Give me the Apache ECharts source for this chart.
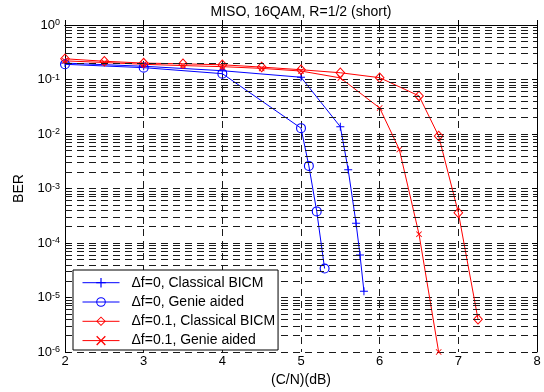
<!DOCTYPE html>
<html>
<head>
<meta charset="utf-8">
<script src="https://cdn.jsdelivr.net/npm/echarts@6/dist/echarts.min.js"></script>
<style>
html,body{margin:0;padding:0;background:#fff;}
#c{width:544px;height:392px;}
</style>
</head>
<body>
<div id="c"></div>
<script>
// ---- data ----
var seriesNames = ['\u0394f=0, Classical BICM', '\u0394f=0, Genie aided', '\u0394f=0.1, Classical BICM', '\u0394f=0.1, Genie aided'];
var xBlueClassic = [2, 3, 4, 5, 5.5, 5.6, 5.7, 5.75, 5.8];
var yBlueClassic = [0.2, 0.175, 0.145, 0.11, 0.0136, 0.0022, 2.3e-4, 6e-5, 1.3e-5];
var xBlueGenie = [2, 3, 4, 5, 5.1, 5.2, 5.3];
var yBlueGenie = [0.19, 0.165, 0.128, 0.0128, 0.0026, 3.8e-4, 3.4e-5];
var xRedClassic = [2, 2.5, 3, 3.5, 4, 4.5, 5, 5.5, 6, 6.5, 6.75, 7, 7.25];
var yRedClassic = [0.24, 0.216, 0.2, 0.194, 0.186, 0.169, 0.151, 0.133, 0.108, 0.05, 0.0092, 3.6e-4, 4e-6];
var xRedGenie = [2, 2.5, 3, 3.5, 4, 4.5, 5, 5.5, 6, 6.25, 6.5, 6.75];
var yRedGenie = [0.22, 0.205, 0.19, 0.18, 0.172, 0.16, 0.143, 0.107, 0.03, 0.0052, 1.45e-4, 1e-6];
var xTicks = [2, 3, 4, 5, 6, 7, 8];
var yDecadeExps = [0, -1, -2, -3, -4, -5, -6];
var minorMultipliers = [2, 3, 4, 5, 6, 7, 8, 9];
var titleText = 'MISO, 16QAM, R=1/2 (short)';
var xName = '(C/N)(dB)';
var yName = 'BER';

function zip(xs, ys) { return xs.map(function (x, i) { return [x, ys[i]]; }); }

var expMax = yDecadeExps[0], expMin = yDecadeExps[yDecadeExps.length - 1];
// minor grid positions in exponent space (log10 of 2..9 x 10^k)
var minorExps = [];
yDecadeExps.forEach(function (e) {
  if (e === expMax) return;
  minorMultipliers.forEach(function (m) { minorExps.push(e + Math.log10(m)); });
});

var plusPath = 'path://M3.5,0 H4.5 V3.5 H8 V4.5 H4.5 V8 H3.5 V4.5 H0 V3.5 H3.5 Z';
var crossPath = 'path://M0,0.6 L0.6,0 L3,2.4 L5.4,0 L6,0.6 L3.6,3 L6,5.4 L5.4,6 L3,3.6 L0.6,6 L0,5.4 L2.4,3 Z';
var ringPath = 'path://M0,4.5 A4.5,4.5 0 1 1 9,4.5 A4.5,4.5 0 1 1 0,4.5 Z M1,4.5 A3.5,3.5 0 1 0 8,4.5 A3.5,3.5 0 1 0 1,4.5 Z';
var diamondPath = 'path://M4.5,0 L9,5 L4.5,10 L0,5 Z M4.5,1.4 L1.2,5 L4.5,8.6 L7.8,5 Z';

var gridDash = [7, 5];
var gridColor = '#1a1a1a';
var fontFam = '"Liberation Sans", Arial, Helvetica, sans-serif';

var chart = echarts.init(document.getElementById('c'), null, {renderer: 'canvas'});
var L = 65, R = 537, T = 25, B = 357;

var tickStyle = {show: true, inside: true, length: 5, lineStyle: {color: '#000', width: 1}};
var axisLineStyle = {show: true, lineStyle: {color: '#000', width: 1}};

var option = {
  backgroundColor: '#fff',
  animation: false,
  textStyle: {fontFamily: fontFam},
  graphic: [{
    type: 'text',
    x: (L + R) / 2,
    y: 12,
    style: {
      text: titleText, fill: '#000', font: '14px ' + fontFam,
      textAlign: 'center', textVerticalAlign: 'middle'
    },
    silent: true
  }],
  grid: {left: L, right: 544 - R, top: T, bottom: 392 - B, show: false},
  legend: {
    orient: 'vertical',
    left: 73,
    top: 270,
    zlevel: 1,
    z: 10,
    backgroundColor: '#fff',
    borderColor: '#000',
    borderWidth: 1,
    borderRadius: 0,
    padding: [5.7, 3, 2.4, 9],
    itemWidth: 37,
    itemHeight: 12,
    itemGap: 5.3,
    data: seriesNames,
    lineStyle: {width: 1},
    textStyle: {fontSize: 14, color: '#000', fontFamily: fontFam, padding: [0, 0, 0, 7]}
  },
  xAxis: [{
    type: 'value', min: xTicks[0], max: xTicks[xTicks.length - 1], interval: 1,
    position: 'bottom',
    name: xName, nameLocation: 'middle', nameGap: 21,
    nameTextStyle: {fontSize: 14, color: '#000', fontFamily: fontFam},
    axisLine: axisLineStyle,
    axisTick: tickStyle,
    axisLabel: {fontSize: 13, color: '#000', margin: 3, fontFamily: fontFam},
    splitLine: {show: true, lineStyle: {type: gridDash, color: gridColor, width: 1}}
  }, {
    type: 'value', min: xTicks[0], max: xTicks[xTicks.length - 1], interval: 1,
    position: 'top',
    axisLine: axisLineStyle,
    axisTick: tickStyle,
    axisLabel: {show: false},
    splitLine: {show: false}
  }],
  yAxis: [{
    type: 'log', logBase: 10, min: Math.pow(10, expMin), max: Math.pow(10, expMax),
    position: 'left',
    name: yName, nameLocation: 'middle', nameGap: 37, nameRotate: 90,
    nameTextStyle: {fontSize: 14, color: '#000', fontFamily: fontFam},
    axisLine: axisLineStyle,
    axisTick: tickStyle,
    axisLabel: {
      margin: 5, color: '#000', fontFamily: fontFam,
      formatter: function (v) {
        var e = Math.round(Math.log10(v));
        return '{b|10}{s|' + e + '}';
      },
      rich: {
        b: {fontSize: 13, lineHeight: 13, verticalAlign: 'bottom', color: '#000', fontFamily: fontFam},
        s: {fontSize: 9, lineHeight: 9, verticalAlign: 'top', padding: [0, 0, 8, 0], color: '#000', fontFamily: fontFam}
      }
    },
    splitLine: {show: true, lineStyle: {type: gridDash, color: gridColor, width: 1}}
  }, {
    type: 'log', logBase: 10, min: Math.pow(10, expMin), max: Math.pow(10, expMax),
    position: 'right',
    axisLine: axisLineStyle,
    axisTick: tickStyle,
    axisLabel: {show: false},
    splitLine: {show: false}
  }, {
    // hidden helper axis in exponent space used for the minor grid lines
    type: 'value', min: expMin, max: expMax, show: false
  }],
  series: [{
    type: 'line', name: '_grid', data: [], silent: true, xAxisIndex: 0, yAxisIndex: 2,
    markLine: {
      silent: true, symbol: ['none', 'none'], animation: false,
      label: {show: false},
      lineStyle: {type: gridDash, color: gridColor, width: 1},
      emphasis: {disabled: true},
      data: minorExps.map(function (v) { return {yAxis: v}; })
    }
  }, {
    type: 'line', name: seriesNames[0], data: zip(xBlueClassic, yBlueClassic),
    symbol: plusPath, symbolSize: 8, showAllSymbol: true,
    lineStyle: {color: '#0000ff', width: 1}, itemStyle: {color: '#0000ff'}
  }, {
    type: 'line', name: seriesNames[1], data: zip(xBlueGenie, yBlueGenie),
    symbol: ringPath, symbolSize: 10, showAllSymbol: true,
    lineStyle: {color: '#0000ff', width: 1}, itemStyle: {color: '#0000ff'}
  }, {
    type: 'line', name: seriesNames[2], data: zip(xRedClassic, yRedClassic),
    symbol: diamondPath, symbolSize: [10, 11], showAllSymbol: true,
    lineStyle: {color: '#ff0000', width: 1}, itemStyle: {color: '#ff0000'}
  }, {
    type: 'line', name: seriesNames[3], data: zip(xRedGenie, yRedGenie),
    symbol: crossPath, symbolSize: 6, showAllSymbol: true,
    lineStyle: {color: '#ff0000', width: 1}, itemStyle: {color: '#ff0000'}
  }]
};
chart.setOption(option);
</script>
</body>
</html>
